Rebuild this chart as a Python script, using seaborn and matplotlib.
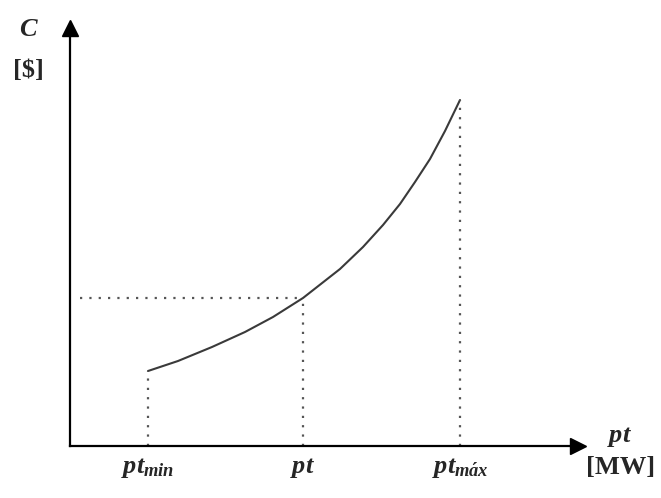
import matplotlib
matplotlib.use("Agg")
import matplotlib.pyplot as plt
import seaborn as sns
import pandas as pd

# data (units: arbitrary)
curve_x = [78, 108, 142, 175, 203, 233, 270, 293, 313, 330, 345, 360, 375, 390]
curve_y = [75, 85, 99, 114, 129, 148, 177, 199, 221, 242, 264, 287, 315, 346]
p_levels = [78, 233, 390]
p_costs = [75, 148, 346]
tick_labels = [r"$pt_{min}$", r"$pt$", r"$pt_{m\acute{a}x}$"]
x_label = ["pt", "[MW]"]
y_label = ["C", "[$]"]

sns.set_theme(style="white")
plt.rcParams["font.family"] = ["Liberation Serif", "DejaVu Serif"]
plt.rcParams["mathtext.fontset"] = "custom"
plt.rcParams["mathtext.it"] = "Liberation Serif:bold:italic"
plt.rcParams["mathtext.rm"] = "Liberation Serif:bold"
plt.rcParams["mathtext.bf"] = "Liberation Serif:bold"

fig = plt.figure(figsize=(6.61, 4.98), dpi=100)
ax = fig.add_axes([70 / 661, 52 / 498, 508 / 661, 418 / 498])
ax.set_xlim(0, 508)
ax.set_ylim(0, 418)

df = pd.DataFrame({"x": curve_x, "y": curve_y})
sns.lineplot(data=df, x="x", y="y", ax=ax, color="#3a3a3a", lw=1.5, sort=False)

dot = dict(color="#555555", lw=1.6, linestyle=(0, (1, 3.2)))
for px, cy in zip(p_levels, p_costs):
    ax.plot([px, px], [0, cy], **dot)
ax.plot([10, p_levels[1]], [p_costs[1], p_costs[1]], **dot)

for s in ["top", "right"]:
    ax.spines[s].set_visible(False)
for s in ["left", "bottom"]:
    ax.spines[s].set_color("black")
    ax.spines[s].set_linewidth(1.6)
ax.plot(1, 0, ">", color="black", ms=11, transform=ax.transAxes, clip_on=False)
ax.plot(0, 1, "^", color="black", ms=11, transform=ax.transAxes, clip_on=False)

ax.set_xticks(p_levels, tick_labels, fontsize=19)
ax.set_yticks([])
ax.tick_params(axis="x", length=0, pad=7)
ax.set_xlabel("")
ax.set_ylabel("")

fig.text(620 / 661, 1 - 437 / 498, r"$pt$", fontsize=19, ha="center", va="center")
fig.text(621 / 661, 1 - 467 / 498, x_label[1], fontsize=19, fontweight="bold", ha="center", va="center")
fig.text(29 / 661, 1 - 30 / 498, r"$C$", fontsize=19, ha="center", va="center")
fig.text(28 / 661, 1 - 70 / 498, y_label[1], fontsize=19, fontweight="bold", ha="center", va="center")

fig.savefig("out.png", dpi=100)
